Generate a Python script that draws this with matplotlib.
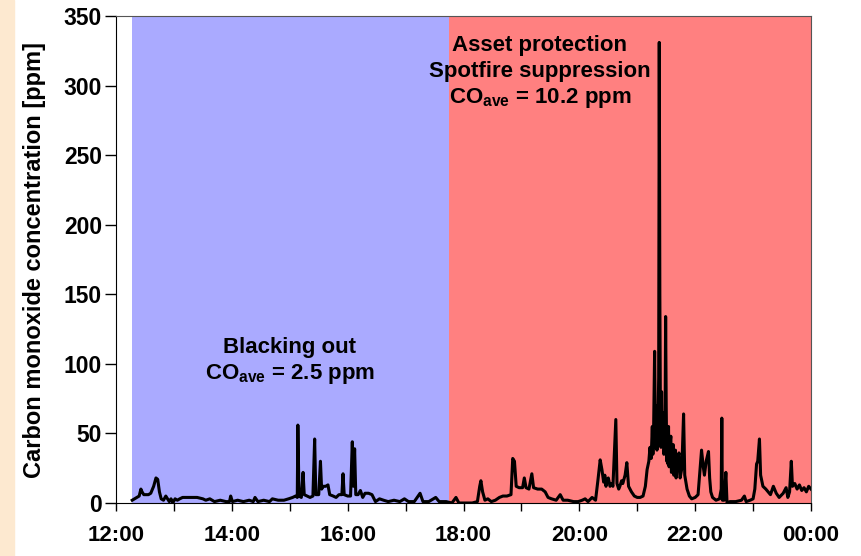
import numpy as np
import matplotlib.pyplot as plt
from matplotlib.ticker import MultipleLocator, FuncFormatter

plt.rcParams['font.family'] = ['Liberation Sans', 'DejaVu Sans']
plt.rcParams['font.weight'] = 'bold'
plt.rcParams['mathtext.fontset'] = 'custom'
plt.rcParams['mathtext.rm'] = 'Liberation Sans:bold'
plt.rcParams['mathtext.bf'] = 'Liberation Sans:bold'

# CO trace, time in decimal hours (24 = midnight)
hours = [
    12.28, 12.32, 12.36, 12.40, 12.43, 12.45, 12.48, 12.52, 12.56, 12.60,
    12.65, 12.69, 12.72, 12.75, 12.78, 12.82, 12.86, 12.89, 12.92, 12.95,
    12.98, 13.02, 13.06, 13.10, 13.15, 13.20, 13.30, 13.40, 13.50, 13.55,
    13.62, 13.70, 13.80, 13.90, 13.96, 13.98, 14.01, 14.10, 14.20, 14.30,
    14.37, 14.40, 14.45, 14.55, 14.65, 14.70, 14.80, 14.90, 14.98, 15.05,
    15.10, 15.13, 15.14, 15.16, 15.20, 15.23, 15.25, 15.30, 15.35, 15.40,
    15.43, 15.45, 15.50, 15.53, 15.55, 15.58, 15.62, 15.66, 15.69, 15.75,
    15.80, 15.85, 15.90, 15.92, 15.94, 16.00, 16.05, 16.08, 16.10, 16.12,
    16.14, 16.18, 16.22, 16.26, 16.30, 16.36, 16.42, 16.48, 16.55, 16.62,
    16.70, 16.80, 16.90, 16.98, 17.05, 17.15, 17.25, 17.30, 17.40, 17.52,
    17.58, 17.70, 17.80, 17.87, 17.92, 18.05, 18.15, 18.24, 18.28, 18.30,
    18.33, 18.37, 18.42, 18.48, 18.55, 18.62, 18.68, 18.75, 18.82, 18.85,
    18.88, 18.91, 18.96, 19.02, 19.05, 19.08, 19.13, 19.18, 19.21, 19.28,
    19.35, 19.41, 19.46, 19.52, 19.60, 19.67, 19.72, 19.80, 19.90, 19.98,
    20.05, 20.10, 20.15, 20.22, 20.28, 20.32, 20.36, 20.39, 20.42, 20.44,
    20.46, 20.48, 20.50, 20.53, 20.56, 20.58, 20.63, 20.65, 20.68, 20.70,
    20.73, 20.75, 20.79, 20.82, 20.85, 20.90, 20.95, 21.00, 21.05, 21.10,
    21.14, 21.17, 21.20, 21.22, 21.24, 21.26, 21.27, 21.28, 21.30, 21.31,
    21.32, 21.33, 21.34, 21.35, 21.36, 21.37, 21.38, 21.39, 21.40, 21.41,
    21.42, 21.43, 21.44, 21.45, 21.46, 21.47, 21.48, 21.49, 21.50, 21.51,
    21.52, 21.53, 21.54, 21.55, 21.56, 21.57, 21.58, 21.59, 21.60, 21.61,
    21.62, 21.63, 21.64, 21.65, 21.66, 21.67, 21.68, 21.69, 21.70, 21.72,
    21.74, 21.77, 21.80, 21.82, 21.86, 21.90, 21.94, 22.00, 22.05, 22.08,
    22.11, 22.14, 22.16, 22.19, 22.23, 22.25, 22.27, 22.30, 22.36, 22.42,
    22.45, 22.46, 22.47, 22.50, 22.53, 22.55, 22.60, 22.70, 22.80, 22.85,
    22.88, 22.95, 23.00, 23.03, 23.06, 23.08, 23.11, 23.13, 23.17, 23.22,
    23.26, 23.30, 23.35, 23.40, 23.45, 23.52, 23.57, 23.60, 23.63, 23.66,
    23.68, 23.72, 23.76, 23.80, 23.84, 23.88, 23.92, 23.96, 24.00,
]
co_ppm = [
    2, 3, 4, 5, 10, 8, 6, 6, 6, 7,
    12, 18, 17, 8, 3, 2, 5, 3, 1, 3,
    0, 3, 2, 3, 4, 4, 4, 4, 3, 2,
    3, 1, 2, 1, 1, 5, 1, 2, 1, 2,
    1, 4, 1, 2, 1, 3, 2, 2, 3, 4,
    5, 4, 56, 5, 4, 22, 6, 5, 4, 5,
    46, 6, 6, 30, 10, 12, 12, 13, 6, 5,
    4, 6, 6, 21, 6, 5, 5, 44, 12, 39,
    6, 6, 9, 4, 7, 7, 6, 1, 3, 2,
    1, 2, 1, 3, 1, 1, 7, 1, 1, 4,
    1, 1, 0, 4, 0, 0, 0, 1, 12, 16,
    8, 2, 3, 1, 2, 4, 5, 5, 6, 32,
    30, 12, 11, 11, 18, 11, 10, 21, 11, 10,
    10, 8, 4, 3, 2, 6, 2, 2, 1, 1,
    2, 3, 1, 4, 2, 16, 31, 24, 15, 20,
    12, 17, 18, 12, 14, 12, 60, 14, 10, 12,
    16, 14, 20, 29, 12, 8, 5, 4, 4, 5,
    12, 24, 30, 40, 32, 55, 35, 45, 109, 60,
    40, 70, 38, 50, 60, 90, 331, 150, 60, 40,
    80, 45, 62, 65, 35, 40, 52, 134, 70, 30,
    45, 28, 55, 26, 30, 44, 48, 22, 25, 38,
    42, 20, 22, 35, 38, 18, 20, 30, 32, 36,
    18, 25, 64, 20, 10, 5, 3, 4, 6, 22,
    38, 26, 20, 30, 37, 18, 8, 4, 2, 3,
    10, 61, 2, 2, 22, 0, 1, 1, 2, 5,
    1, 2, 3, 10, 28, 30, 46, 20, 12, 10,
    8, 6, 12, 7, 4, 7, 11, 4, 8, 30,
    12, 14, 10, 13, 9, 11, 8, 12, 10,
]

# activity periods
phase_start = [12.28, 17.75]
phase_end = [17.75, 24.0]
phase_colors = ['#AAAAFF', '#FF8080']

fig = plt.figure(figsize=(8.61, 5.56), dpi=100)
fig.patches.append(plt.Rectangle((0, 0), 14 / 861, 1, transform=fig.transFigure,
                                 color='#FDE9D0', zorder=0))
ax = fig.add_axes([116 / 861, 1 - 503 / 556, 695 / 861, 487 / 556])

for x0, x1, c in zip(phase_start, phase_end, phase_colors):
    ax.axvspan(x0, x1, color=c, lw=0, zorder=0)

ax.plot(hours, co_ppm, color='black', lw=2.2, zorder=3)

ax.set_xlim(12, 24)
ax.set_ylim(0, 350)
ax.xaxis.set_major_locator(MultipleLocator(2))
ax.xaxis.set_minor_locator(MultipleLocator(1))
ax.yaxis.set_major_locator(MultipleLocator(50))
ax.xaxis.set_major_formatter(FuncFormatter(lambda v, p: '%02d:00' % (int(round(v)) % 24)))
ax.tick_params(axis='x', which='both', direction='out', length=6, width=1, pad=10, labelsize=16)
ax.tick_params(axis='y', direction='out', length=8, width=1, pad=2, labelsize=16.5)
for side in ['top', 'right']:
    ax.spines[side].set_color('#555555')
ax.set_ylabel('Carbon monoxide concentration [ppm]', fontsize=17, fontweight='bold')
ax.yaxis.set_label_coords(-0.1, 0.5)

ax.text(15.0, 112, 'Blacking out', ha='center', va='center', fontsize=16, fontweight='bold')
ax.text(15.0, 93, r'CO$_\mathbf{ave}$ = 2.5 ppm', ha='center', va='center', fontsize=16, fontweight='bold')
ax.text(19.32, 329, 'Asset protection', ha='center', va='center', fontsize=16, fontweight='bold')
ax.text(19.32, 310, 'Spotfire suppression', ha='center', va='center', fontsize=16, fontweight='bold')
ax.text(19.32, 291, r'CO$_\mathbf{ave}$ = 10.2 ppm', ha='center', va='center', fontsize=16, fontweight='bold')

fig.savefig('out.png', dpi=100)
